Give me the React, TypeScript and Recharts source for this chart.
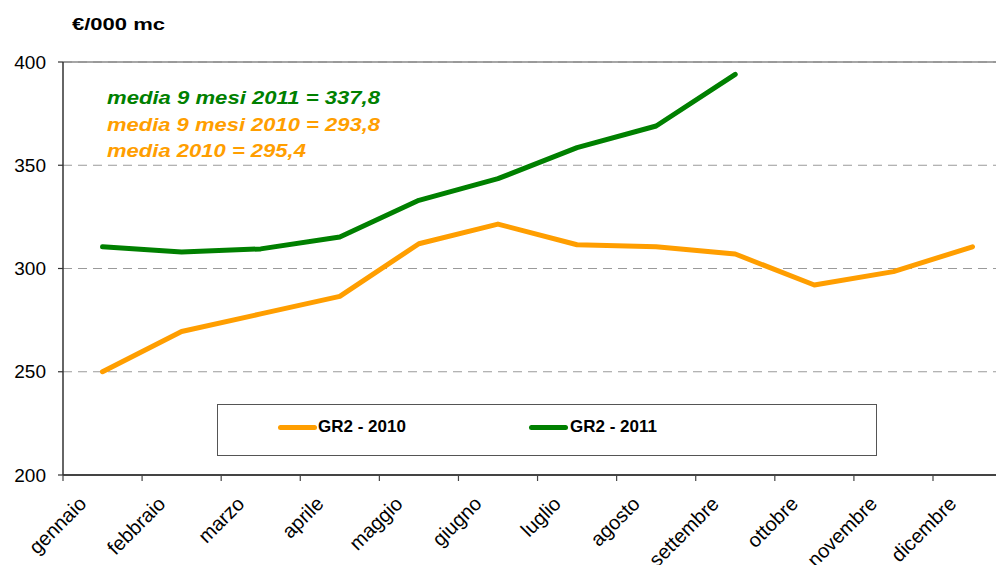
import React from 'react';
import { LineChart, Line, XAxis, YAxis, CartesianGrid, ReferenceLine, Legend } from 'recharts';

const months = ['gennaio', 'febbraio', 'marzo', 'aprile', 'maggio', 'giugno', 'luglio', 'agosto', 'settembre', 'ottobre', 'novembre', 'dicembre'];
const gr2010 = [250, 269.5, 278, 286.5, 312, 321.5, 311.5, 310.5, 307, 292, 298.5, 310.5];
const gr2011: (number | null)[] = [310.5, 308, 309.5, 315.3, 333, 343.5, 358.5, 369, 394, null, null, null];
const yTicks = [200, 250, 300, 350, 400];
const seriesNames = ['GR2 - 2010', 'GR2 - 2011'];
const unitLabel = '€/000 mc';
const notes = [
  { text: 'media 9 mesi 2011 = 337,8', color: '#008000' },
  { text: 'media 9 mesi 2010 = 293,8', color: '#FF9E00' },
  { text: 'media 2010 = 295,4', color: '#FF9E00' },
];

const ORANGE = '#FF9E00';
const GREEN = '#008000';
const FONT = 'Liberation Sans, Arial, sans-serif';
const HALF_BAND = 39.5;

const data = months.map((m, i) => ({ month: m, a: gr2010[i], b: gr2011[i] }));

const XTick = (props: any) => {
  const { x, y, payload } = props;
  const tx = x - 15;
  const ty = y + 30;
  return (
    <g>
      <line x1={x - HALF_BAND} y1={y} x2={x - HALF_BAND} y2={y + 6} stroke="#444" strokeWidth={1.2} />
      <text x={tx} y={ty} textAnchor="end" transform={`rotate(-45, ${tx}, ${ty})`} fontSize={20} fontFamily={FONT} fill="#000">
        {payload.value}
      </text>
    </g>
  );
};

const LegendBox = () => (
  <div style={{ position: 'relative', width: 660, height: 52, boxSizing: 'border-box', border: '1px solid #555', background: '#fff', fontFamily: FONT }}>
    {[ORANGE, GREEN].map((c, i) => (
      <React.Fragment key={i}>
        <div style={{ position: 'absolute', left: i === 0 ? 60 : 311, top: 20, width: 39, height: 5, borderRadius: 3, background: c }} />
        <div style={{ position: 'absolute', left: i === 0 ? 100 : 352, top: 12, fontSize: 17, fontWeight: 'bold', color: '#000', whiteSpace: 'nowrap', lineHeight: '20px' }}>
          {seriesNames[i]}
        </div>
      </React.Fragment>
    ))}
  </div>
);

export default function App() {
  return (
    <div style={{ position: 'absolute', left: 0, top: 0, width: 996, height: 565, overflow: 'hidden', background: '#fff' }}>
      <LineChart width={1020} height={565} data={data} margin={{ top: 62, right: 8, bottom: 0, left: 0 }}>
        <CartesianGrid vertical={false} stroke="#9a9a9a" strokeDasharray="9 6" />
        <ReferenceLine y={400} stroke="#888" strokeWidth={1.5} />
        <XAxis
          dataKey="month"
          height={90}
          padding={{ left: HALF_BAND, right: HALF_BAND }}
          tickLine={false}
          tickSize={0}
          tickMargin={0}
          interval={0}
          axisLine={{ stroke: '#444', strokeWidth: 2 }}
          tick={<XTick />}
        />
        <YAxis
          domain={[200, 400]}
          ticks={yTicks}
          width={63}
          tickSize={5}
          tickMargin={12}
          axisLine={{ stroke: '#333', strokeWidth: 1.5 }}
          tickLine={{ stroke: '#333', strokeWidth: 1.2 }}
          tick={{ fontSize: 19, fontFamily: FONT, fill: '#000' }}
          allowDataOverflow
        />
        <Legend
          verticalAlign="middle"
          layout="horizontal"
          wrapperStyle={{ position: 'absolute', left: 217, top: 404, width: 660, height: 52 }}
          content={<LegendBox />}
        />
        <Line type="linear" dataKey="a" name={seriesNames[0]} stroke={ORANGE} strokeWidth={5} dot={false} strokeLinecap="round" strokeLinejoin="round" isAnimationActive={false} />
        <Line type="linear" dataKey="b" name={seriesNames[1]} stroke={GREEN} strokeWidth={5} dot={false} strokeLinecap="round" strokeLinejoin="round" isAnimationActive={false} />
      </LineChart>
      <svg width={996} height={565} style={{ position: 'absolute', left: 0, top: 0, pointerEvents: 'none' }}>
        <text x={72} y={30} fontSize={17} fontWeight="bold" fontFamily={FONT} fill="#000" textLength={93} lengthAdjust="spacingAndGlyphs">
          {unitLabel}
        </text>
        {notes.map((n, i) => (
          <text
            key={i}
            x={107}
            y={104 + i * 26.5}
            fontSize={19}
            fontWeight="bold"
            fontStyle="italic"
            fontFamily={FONT}
            fill={n.color}
            textLength={i === 2 ? 199 : 273}
            lengthAdjust="spacingAndGlyphs"
          >
            {n.text}
          </text>
        ))}
      </svg>
    </div>
  );
}
